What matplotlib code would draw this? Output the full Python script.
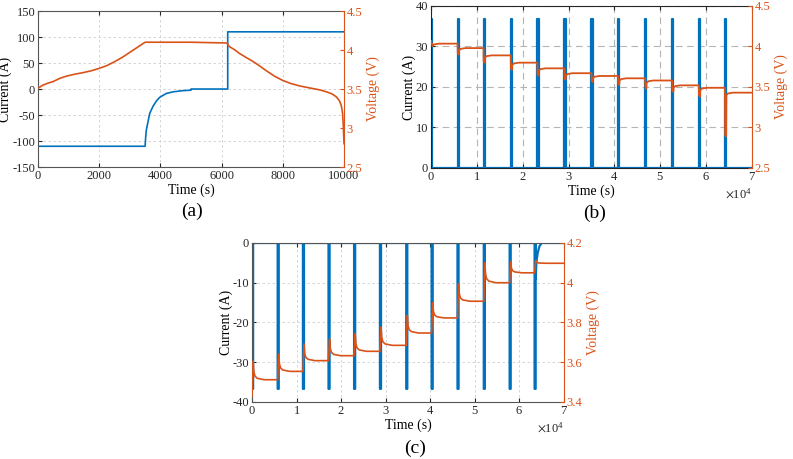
import numpy as np
import matplotlib
matplotlib.use('Agg')
from matplotlib import pyplot as plt
from matplotlib.ticker import ScalarFormatter, FuncFormatter

BLUE = '#0072BD'
ORANGE = '#D95319'

plt.rcParams['font.family'] = ['Liberation Serif', 'DejaVu Serif']
plt.rcParams['mathtext.fontset'] = 'stix'
plt.rcParams['font.size'] = 9
plt.rcParams['axes.unicode_minus'] = False

# ---- (a) one charge / rest / discharge cycle
t_a_cur = [0, 3500, 3500, 3520, 3540, 3650, 3760, 3870, 3975, 4190, 4410, 4740, 5000, 5000, 6200, 6200, 10000]
i_a = [-110, -110, -110, -92, -79, -47, -33, -23, -16, -8.6, -5.4, -3, -2.2, 0, 0, 110, 110]
t_a_volt = [0, 160, 320, 490, 700, 925, 1200, 1470, 1750, 2000, 2250, 2500, 2750, 3000, 3250, 3500,
            5000, 6180, 6250, 6400, 6590, 6800, 7000, 7230, 7460, 7730, 8000, 8270, 8550, 8800,
            9000, 9200, 9420, 9600, 9750, 9850, 9910, 9950, 9975, 10000]
v_a = [3.51, 3.55, 3.575, 3.595, 3.635, 3.665, 3.69, 3.71, 3.735, 3.765, 3.80, 3.85, 3.905, 3.97,
       4.035, 4.1, 4.1, 4.09, 4.045, 4.01, 3.955, 3.905, 3.86, 3.80, 3.735, 3.665, 3.61, 3.57,
       3.54, 3.52, 3.505, 3.49, 3.465, 3.44, 3.40, 3.35, 3.29, 3.20, 3.05, 2.80]

# ---- (b) discharge pulses
t_pulse_b = [0, 5800, 11450, 17400, 23200, 29100, 35000, 40800, 46700, 52600, 58400, 64100]
amp_b = 36.7
v_start_b = 4.07
v_dip_b = [4.03, 3.90, 3.80, 3.71, 3.64, 3.59, 3.56, 3.525, 3.48, 3.44, 3.38, 2.89]
v_rest_b = [4.035, 3.98, 3.89, 3.80, 3.73, 3.67, 3.636, 3.607, 3.58, 3.52, 3.49, 3.43]

# ---- (c) charge pulses
t_pulse_c = [0, 5750, 11420, 17160, 22900, 28700, 34600, 40300, 46100, 52000, 57800, 63400]
amp_c = -36.7
v_start_c = 3.43
v_spike_c = [3.605, 3.641, 3.692, 3.717, 3.744, 3.777, 3.836, 3.90, 3.994, 4.10, 4.105, 4.112]
v_rest_c = [3.512, 3.554, 3.608, 3.633, 3.655, 3.685, 3.747, 3.823, 3.907, 4.0, 4.05, 4.098]
relax_dt_c = [0, 150, 400, 900, 2500]
relax_frac_c = [1.0, 0.45, 0.2, 0.08, 0.0]
tail_t_c = [63650, 63800, 64100, 64500, 65000, 70000]
tail_i_c = [-9, -5, -2.5, -0.8, 0, 0]

width = 250
t_end = 70000


def pulse_current(t_pulse, amp, t_stop):
    t, i = [0], [0]
    for tp in t_pulse:
        t += [tp, tp, tp + width, tp + width]
        i += [0, amp, amp, 0]
    if t_stop is not None:
        t.append(t_stop)
        i.append(0)
    return t, i


def discharge_voltage():
    t, v = [0], [v_start_b]
    prev = v_start_b
    for tp, vd, vr in zip(t_pulse_b, v_dip_b, v_rest_b):
        t += [tp, tp + 30, tp + width, tp + width + 60, tp + width + 400, tp + width + 1500]
        v += [prev, vd + 0.02, vd, vr - 0.03, vr - 0.01, vr]
        prev = vr
    t.append(t_end)
    v.append(prev)
    return t, v


def charge_voltage():
    t, v = [0], [v_start_c]
    prev = v_start_c
    for tp, vs, vr in zip(t_pulse_c, v_spike_c, v_rest_c):
        t.append(tp)
        v.append(prev)
        for dt, fr in zip(relax_dt_c, relax_frac_c):
            t.append(tp + width + dt)
            v.append(vr + fr * (vs - vr))
        prev = vr
    t.append(t_end)
    v.append(prev)
    return t, v


def style(ax, ax2, frame, grid_style):
    for s in ['left', 'top', 'bottom']:
        ax.spines[s].set_color(frame)
        ax2.spines[s].set_visible(False)
    ax.spines['right'].set_visible(False)
    ax2.spines['right'].set_color(ORANGE)
    ax.tick_params(direction='in', length=3, colors='#262626', top=True, right=False, pad=2)
    ax2.tick_params(direction='in', length=3, colors=ORANGE, pad=2)
    ax.grid(True, **grid_style)
    ax.set_axisbelow(True)
    ax.set_xlabel('Time (s)', fontsize=10, labelpad=1)
    ax.set_ylabel('Current (A)', fontsize=10, labelpad=0)
    ax2.set_ylabel('Voltage (V)', fontsize=10, color=ORANGE, labelpad=3)


light_grid = dict(color='#cfcfcf', linestyle=(0, (3, 3)), linewidth=0.6)
dark_grid = dict(color='#b5b5b5', linestyle=(0, (6, 4)), linewidth=0.8)
gfmt = FuncFormatter(lambda x, p: '%g' % x)

fig = plt.figure(figsize=(7.93, 4.59), dpi=100)

# (a)
ax = fig.add_axes([0.0479, 0.636, 0.3859, 0.340])
ax2 = ax.twinx()
ax.plot(t_a_cur, i_a, color=BLUE, lw=1.2)
ax2.plot(t_a_volt, v_a, color=ORANGE, lw=1.2)
ax.set_xlim(0, 10000)
ax.set_ylim(-150, 150)
ax.set_xticks(np.arange(0, 10001, 2000))
ax.set_yticks(np.arange(-150, 151, 50))
ax2.set_ylim(2.5, 4.5)
ax2.set_yticks([2.5, 3, 3.5, 4, 4.5])
ax2.yaxis.set_major_formatter(gfmt)
style(ax, ax2, '#555555', light_grid)
fig.text(0.242, 0.540, '(a)', fontsize=14, ha='center', va='center')

# (b)
ax = fig.add_axes([0.5435, 0.634, 0.4048, 0.353])
ax2 = ax.twinx()
tb, ib = pulse_current(t_pulse_b, amp_b, t_end)
ax.plot(tb, ib, color=BLUE, lw=1.6)
tvb, vb = discharge_voltage()
ax2.plot(tvb, vb, color=ORANGE, lw=1.3)
ax.set_xlim(0, 70000)
ax.set_ylim(0, 40)
ax.set_yticks([0, 10, 20, 30, 40])
ax2.set_ylim(2.5, 4.5)
ax2.set_yticks([2.5, 3, 3.5, 4, 4.5])
ax2.yaxis.set_major_formatter(gfmt)
f = ScalarFormatter(useMathText=True)
f.set_powerlimits((-3, 3))
ax.xaxis.set_major_formatter(f)
style(ax, ax2, '#262626', dark_grid)
fig.text(0.750, 0.536, '(b)', fontsize=14, ha='center', va='center')

# (c)
ax = fig.add_axes([0.3178, 0.1242, 0.3934, 0.3464])
ax2 = ax.twinx()
tc, ic = pulse_current(t_pulse_c, amp_c, None)
tc += tail_t_c
ic += tail_i_c
ax.plot(tc, ic, color=BLUE, lw=1.6)
tvc, vc = charge_voltage()
ax2.plot(tvc, vc, color=ORANGE, lw=1.2)
ax.set_xlim(0, 70000)
ax.set_ylim(-40, 0)
ax.set_yticks([-40, -30, -20, -10, 0])
ax2.set_ylim(3.4, 4.2)
ax2.set_yticks([3.4, 3.6, 3.8, 4.0, 4.2])
ax2.yaxis.set_major_formatter(gfmt)
f = ScalarFormatter(useMathText=True)
f.set_powerlimits((-3, 3))
ax.xaxis.set_major_formatter(f)
style(ax, ax2, '#555555', light_grid)
fig.text(0.523, 0.024, '(c)', fontsize=14, ha='center', va='center')

fig.savefig('out.png', dpi=100)
